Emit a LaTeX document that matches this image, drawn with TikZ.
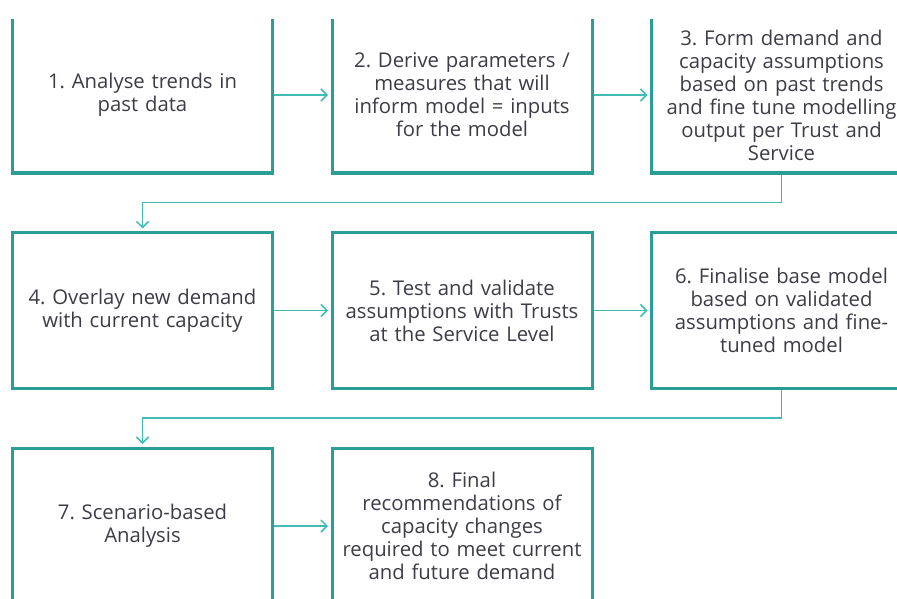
\documentclass[tikz,border=0pt]{standalone}
\usepackage{fontspec}
\setmainfont{Open Sans}
\usetikzlibrary{positioning,arrows.meta}
\definecolor{boxteal}{HTML}{2A9D96}
\definecolor{lineteal}{HTML}{40BCB3}
\definecolor{txtgrey}{HTML}{3C3C46}
\frenchspacing

\begin{document}
\begin{tikzpicture}[x=1pt, y=1pt, node distance=56.5pt and 56.5pt]

\tikzstyle{stage} = [draw=boxteal, line width=3pt, rectangle, minimum width=260pt, minimum height=156pt, text width=250pt, align=center, text=txtgrey, font=\fontsize{20.3}{23}\selectfont]
\tikzstyle{flow}  = [draw=lineteal, line width=1.5pt, -{Straight Barb[length=6pt,width=12pt]}, shorten >=2.5pt]

\useasboundingbox (0,0) rectangle (897,-599);
\clip (0,-19.5) rectangle (897,-599);

% first row
\node [stage] (Stage1) at (142.5,-95) {1. Analyse trends in\\past data};
\node [stage, right=of Stage1] (Stage2) {2. Derive parameters /\\measures that will\\inform model = inputs\\for the model};
\node [stage, right=of Stage2] (Stage3) {3. Form demand and\\capacity assumptions\\based on past trends\\and fine tune modelling\\output per Trust and\\Service};

% second row
\node [stage, below=of Stage1] (Stage4) {4. Overlay new demand\\with current capacity};
\node [stage, right=of Stage4] (Stage5) {5. Test and validate\\assumptions with Trusts\\at the Service Level};
\node [stage, right=of Stage5] (Stage6) {6. Finalise base model\\based on validated\\assumptions and fine-\\tuned model};

% third row
\node [stage, below=of Stage4] (Stage7) {7. Scenario-based\\Analysis};
\node [stage, right=of Stage7] (Stage8) {8. Final\\recommendations of\\capacity changes\\required to meet current\\and future demand};

\draw [flow] (Stage1) -- (Stage2);
\draw [flow] (Stage2) -- (Stage3);
\draw [flow] (Stage3.south) -- ++(0,-28) -| (Stage4.north);
\draw [flow] (Stage4) -- (Stage5);
\draw [flow] (Stage5) -- (Stage6);
\draw [flow] (Stage6.south) -- ++(0,-28) -| (Stage7.north);
\draw [flow] (Stage7) -- (Stage8);
\end{tikzpicture}
\end{document}
